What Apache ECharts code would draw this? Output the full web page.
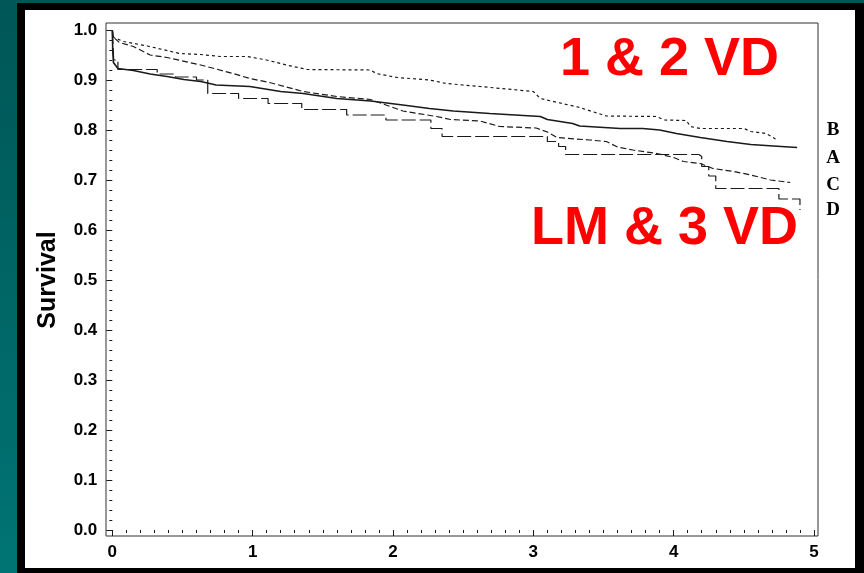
<!DOCTYPE html>
<html>
<head>
<meta charset="utf-8">
<script src="https://cdn.jsdelivr.net/npm/echarts@6.0.0/dist/echarts.min.js"></script>
<style>
  html, body { margin: 0; padding: 0; }
  .slide { position: relative; width: 864px; height: 573px; overflow: hidden;
    background: linear-gradient(#005656, #007474); }
  .frame { position: absolute; left: 17px; top: 3px; right: 0; bottom: 0; background: #000; }
  .paper { position: absolute; left: 25px; top: 10px; width: 830px; height: 558px; background: #fff; }
  #chart { position: absolute; left: 0; top: 0; width: 864px; height: 573px; }
</style>
</head>
<body>
<div class="slide">
  <div class="frame"></div>
  <div class="paper"></div>
  <div id="chart"></div>
</div>
<script>
// survival curves, [years, survival]
const survA = [[0, 1.0], [0.003, 0.96], [0.008, 0.935], [0.04, 0.923], [0.15, 0.919], [0.27, 0.912],
  [0.39, 0.907], [0.51, 0.901], [0.63, 0.897], [0.74, 0.89], [0.98, 0.887], [1.2, 0.877],
  [1.36, 0.873], [1.6, 0.863], [1.84, 0.858], [2.07, 0.85], [2.26, 0.843], [2.43, 0.838],
  [2.69, 0.833], [3.05, 0.827], [3.1, 0.821], [3.28, 0.813], [3.33, 0.808], [3.62, 0.803],
  [3.78, 0.803], [3.9, 0.8], [4.02, 0.793], [4.19, 0.785], [4.38, 0.777], [4.55, 0.771],
  [4.71, 0.768], [4.88, 0.765]];
const survB = [[0, 1.0], [0.01, 0.985], [0.08, 0.977], [0.25, 0.968], [0.48, 0.953], [0.63, 0.951],
  [0.77, 0.947], [0.96, 0.947], [1.1, 0.94], [1.24, 0.93], [1.39, 0.921], [1.84, 0.92],
  [1.88, 0.913], [2.03, 0.905], [2.26, 0.9], [2.38, 0.893], [2.62, 0.887], [3.0, 0.877],
  [3.05, 0.863], [3.33, 0.845], [3.52, 0.828], [3.88, 0.827], [3.93, 0.82], [4.09, 0.819],
  [4.12, 0.807], [4.19, 0.803], [4.5, 0.803], [4.55, 0.797], [4.66, 0.793], [4.72, 0.783],
  [4.74, 0.779]];
const survC = [[0, 1.0], [0.01, 0.985], [0.05, 0.975], [0.15, 0.967], [0.27, 0.95], [0.39, 0.945],
  [0.63, 0.93], [0.86, 0.913], [0.98, 0.903], [1.12, 0.895], [1.36, 0.877], [1.6, 0.867],
  [1.84, 0.861], [1.96, 0.849], [2.07, 0.838], [2.31, 0.827], [2.41, 0.821], [2.62, 0.818],
  [2.76, 0.807], [3.02, 0.804], [3.1, 0.796], [3.17, 0.785], [3.4, 0.78], [3.52, 0.777],
  [3.6, 0.766], [3.71, 0.76], [3.88, 0.753], [4.0, 0.745], [4.07, 0.737], [4.19, 0.733],
  [4.28, 0.723], [4.43, 0.717], [4.55, 0.71], [4.69, 0.7], [4.83, 0.695]];
// D is drawn as steps
const survD = [[0, 1.0], [0.01, 0.94], [0.04, 0.921], [0.32, 0.912], [0.45, 0.906], [0.6, 0.9],
  [0.68, 0.873], [0.9, 0.863], [1.11, 0.853], [1.35, 0.841], [1.67, 0.83], [1.95, 0.82],
  [2.27, 0.803], [2.35, 0.787], [3.1, 0.777], [3.18, 0.767], [3.23, 0.751], [4.18, 0.747],
  [4.2, 0.727], [4.25, 0.708], [4.3, 0.683], [4.75, 0.662], [4.9, 0.64]];

const xLabels = ['0', '1', '2', '3', '4', '5'];
const yLabels = ['0.0', '0.1', '0.2', '0.3', '0.4', '0.5', '0.6', '0.7', '0.8', '0.9', '1.0'];
const endLetters = ['B', 'A', 'C', 'D'];

const FONT = '"Liberation Sans", Arial, sans-serif';
const ink = '#1a1a1a';

let chart = echarts.init(document.getElementById('chart'));

function curve(name, data, dash, width, step) {
  return {
    name: name,
    type: 'line',
    xAxisIndex: 1,
    yAxisIndex: 1,
    data: data,
    step: step || false,
    showSymbol: false,
    silent: true,
    lineStyle: { color: ink, width: width, type: dash }
  };
}

let letterY = [130, 158, 185, 210];

chart.setOption({
  animation: false,
  grid: [
    { left: 106, right: 46, top: 23, bottom: 37, show: true, borderColor: '#333', borderWidth: 1 },
    { left: 112.3, right: 50, top: 30, bottom: 43 }
  ],
  xAxis: [
    { gridIndex: 0, type: 'value', min: 0, max: 1, show: false },
    {
      gridIndex: 1, type: 'value', min: 0, max: 5, interval: 1, offset: 6,
      axisLine: { show: false },
      axisTick: { show: true, length: 6, lineStyle: { color: ink, width: 1 } },
      minorTick: { show: true, splitNumber: 10, length: 3, lineStyle: { color: ink, width: 1 } },
      splitLine: { show: false },
      axisLabel: {
        margin: 8, color: '#000', fontFamily: FONT, fontWeight: 'bold', fontSize: 17,
        formatter: v => xLabels[Math.round(v)]
      }
    }
  ],
  yAxis: [
    { gridIndex: 0, type: 'value', min: 0, max: 1, show: false },
    {
      gridIndex: 1, type: 'value', min: 0, max: 1, interval: 0.1, offset: 6,
      axisLine: { show: false },
      axisTick: { show: true, length: 6, lineStyle: { color: ink, width: 1 } },
      minorTick: { show: true, splitNumber: 5, length: 3, lineStyle: { color: ink, width: 1 } },
      splitLine: { show: false },
      axisLabel: {
        margin: 9, color: '#000', fontFamily: FONT, fontWeight: 'bold', fontSize: 17,
        formatter: v => yLabels[Math.round(v * 10)]
      },
      name: 'Survival',
      nameLocation: 'middle',
      nameRotate: 90,
      nameGap: 46,
      nameTextStyle: { color: '#000', fontFamily: FONT, fontWeight: 'bold', fontSize: 25 }
    }
  ],
  graphic: [
    {
      type: 'text', left: 560, top: 33,
      style: { text: '1 & 2 VD', fill: '#ff0000', font: 'bold 54px ' + FONT }
    },
    {
      type: 'text', left: 531, top: 202,
      style: { text: 'LM & 3 VD', fill: '#ff0000', font: 'bold 54px ' + FONT }
    }
  ].concat(endLetters.map((t, i) => ({
    type: 'text', x: 833, y: letterY[i],
    style: {
      text: t, fill: '#000', textAlign: 'center', textVerticalAlign: 'middle',
      font: 'bold 19px "Liberation Serif", "Times New Roman", serif'
    }
  }))),
  series: [
    curve('A', survA, 'solid', 1.6),
    curve('B', survB, [3, 3], 1.2),
    curve('C', survC, [6, 3], 1.2),
    curve('D', survD, [14, 4], 1.2, 'end')
  ]
});
</script>
</body>
</html>
